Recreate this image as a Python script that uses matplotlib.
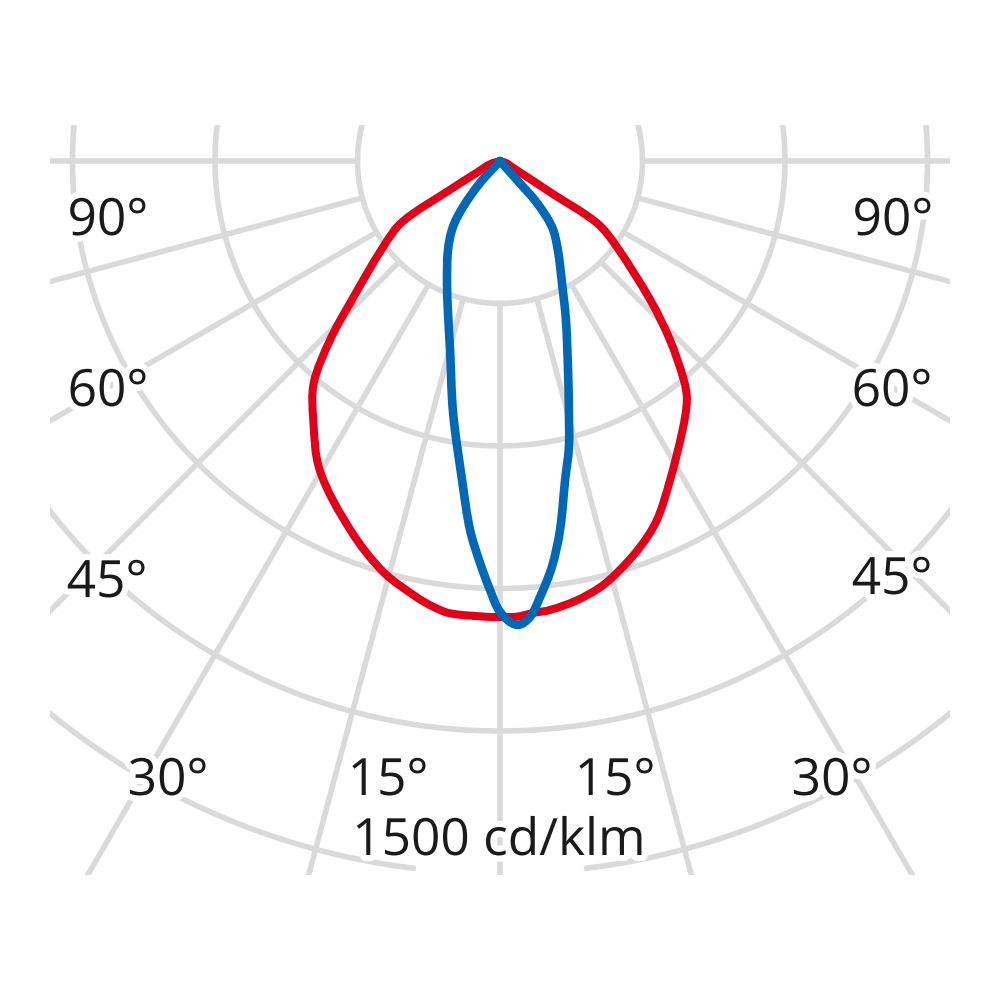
import numpy as np
import matplotlib
matplotlib.use("Agg")
import matplotlib.pyplot as plt
import matplotlib.patheffects as pe
from matplotlib.path import Path
from matplotlib.patches import PathPatch

# luminous intensity distribution, gamma = angle from nadir (deg), values in cd/klm
red_left_deg = [0, 1.6, 6.3, 8.5, 10.8, 15.9, 22.1, 30.2, 35.8, 40, 43.5, 46.5, 53.7, 58.1, 60.1, 62.9, 72, 90]
red_left_cd = [960, 960, 958, 949, 935, 899, 838, 754, 672, 610, 520, 436, 305, 242, 122, 59, 22, 0]
red_right_deg = [0, 2.1, 4.2, 6.4, 9.9, 13.2, 15.9, 19.9, 23.6, 28, 34.2, 38, 40, 43.5, 47.2,
                 53.7, 57.4, 58.1, 59.3, 63.4, 71, 90]
red_right_cd = [960, 960, 954, 951, 939, 922, 901, 865, 825, 762, 684, 639, 602, 520, 432,
                305, 242, 128, 72, 27, 15, 0]

blue_left_deg = [0, 1.34, 2.85, 4.65, 6.79, 10.56, 15.05, 19.24, 23.48, 30.3, 35.46, 38.81, 42.3, 43.5]
blue_left_cd = [949, 903, 847, 779, 676, 539, 406, 333, 280, 217, 171, 124, 63, 0]
blue_right_deg = [0, 2.06, 3.76, 5.24, 7.3, 9.24, 11.52, 13.56, 15.37, 18.02, 22.54, 26.94, 33.09,
                  38.23, 41.37, 41.82, 42.1]
blue_right_cd = [949, 977, 962, 922, 861, 787, 686, 619, 547, 463, 362, 288, 223,
                 177, 118, 54, 0]

rings = [300, 600, 900, 1200, 1500]
spokes = [-90, -75, -60, -45, -30, -15, 0, 15, 30, 45, 60, 75, 90]

angle_labels = ['90°', '90°', '60°', '60°', '45°', '45°', '30°', '30°', '15°', '15°']
unit_label = '1500 cd/klm'

plt.rcParams['font.family'] = ['Open Sans', 'DejaVu Sans']

fig = plt.figure(figsize=(10, 10), dpi=100)
ax = fig.add_axes([0.05, 0.125, 0.9, 0.75])
scale = 0.475  # pixels per cd/klm
ax.set_xlim(-450 / scale, 450 / scale)
ax.set_ylim(-714 / scale, 36 / scale)
ax.axis('off')

grey = '#dadada'
t = np.radians(np.linspace(0, 360, 1441))
for r in rings[:-1]:
    ax.plot(r * np.sin(t), -r * np.cos(t), color=grey, lw=4, zorder=1)
# outer ring is broken at the bottom for the scale label
t5 = np.radians(np.linspace(7, 353, 1400))
ax.plot(rings[-1] * np.sin(t5), -rings[-1] * np.cos(t5), color=grey, lw=4, zorder=1)

for a in spokes:
    g = np.radians(a)
    ax.plot([rings[0] * np.sin(g), 4000 * np.sin(g)],
            [-rings[0] * np.cos(g), -4000 * np.cos(g)],
            color=grey, lw=4, solid_capstyle='butt', zorder=1)


def outline(ldeg, lcd, rdeg, rcd):
    lg = np.radians(ldeg)[::-1]
    li = np.array(lcd, dtype=float)[::-1]
    rg = np.radians(rdeg)[1:]
    ri = np.array(rcd, dtype=float)[1:]
    x = np.concatenate([-li * np.sin(lg), ri * np.sin(rg)])
    y = np.concatenate([-li * np.cos(lg), -ri * np.cos(rg)])
    return np.column_stack([x, y])


def smooth(pts):
    # cubic bezier through the read points (chord-weighted tangents)
    n = len(pts)
    verts = [pts[0]]
    codes = [Path.MOVETO]

    def unit(v):
        d = np.hypot(*v)
        return v / d if d > 0 else v

    for i in range(n - 1):
        p0 = pts[max(i - 1, 0)]
        p1 = pts[i]
        p2 = pts[i + 1]
        p3 = pts[min(i + 2, n - 1)]
        d = np.hypot(*(p2 - p1))
        c1 = p1 + unit(p2 - p0) * d / 3
        c2 = p2 - unit(p3 - p1) * d / 3
        verts += [c1, c2, p2]
        codes += [Path.CURVE4] * 3
    return Path(verts, codes)


red = smooth(outline(red_left_deg, red_left_cd, red_right_deg, red_right_cd))
ax.add_patch(PathPatch(red, fill=False, edgecolor='#e2001a', lw=5.8,
                       joinstyle='round', capstyle='round', zorder=3))
blue = smooth(outline(blue_left_deg, blue_left_cd, blue_right_deg, blue_right_cd))
ax.add_patch(PathPatch(blue, fill=False, edgecolor='#0068b4', lw=6.2,
                       joinstyle='round', capstyle='round', zorder=4))

halo = [pe.withStroke(linewidth=9, foreground='white')]
label_px = [108, 893, 108, 892, 107, 892, 168, 832, 388, 615]
label_py = [235, 235, 406, 406, 597, 594, 795, 795, 795, 795]
for s, px, py in zip(angle_labels, label_px, label_py):
    fig.text(px / 1000, 1 - py / 1000, s, ha='center', va='baseline',
             fontsize=37, color='#1a1a1a', path_effects=halo, zorder=5)
fig.text(0.499, 1 - 855 / 1000, unit_label, ha='center', va='baseline',
         fontsize=37, color='#1a1a1a', path_effects=halo, zorder=5)

fig.savefig('out.png', dpi=100, facecolor='white')
